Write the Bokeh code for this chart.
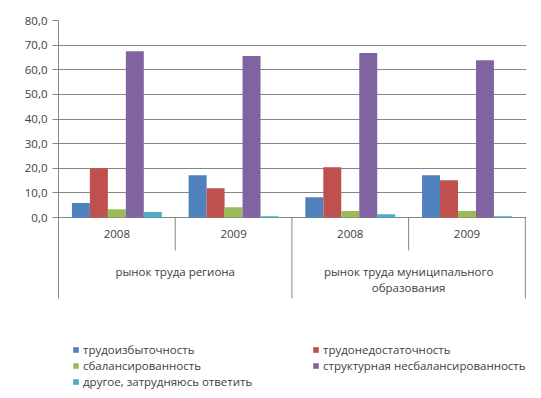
from bokeh.plotting import figure
from bokeh.models import Range1d, FixedTicker, CustomJSTickFormatter, Legend, LegendItem
from bokeh.core.properties import value
from bokeh.embed import file_html
from bokeh.resources import INLINE

# ---- data ----
group_labels = ["рынок труда региона", "рынок труда муниципального\nобразования"]
years = ["2008", "2009", "2008", "2009"]
category_group = [0, 0, 1, 1]
series_names = ["трудоизбыточность", "трудонедостаточность", "сбалансированность",
                "структурная несбалансированность", "другое, затрудняюсь ответить"]
labor_surplus = [5.9, 17.2, 8.2, 17.2]
labor_shortage = [20.0, 11.9, 20.4, 15.1]
balanced = [3.4, 4.2, 2.6, 2.6]
structural_imbalance = [67.5, 65.6, 66.8, 63.9]
other_no_answer = [2.2, 0.5, 1.3, 0.5]
y_ticks = [0, 10, 20, 30, 40, 50, 60, 70, 80]

series_values = [labor_surplus, labor_shortage, balanced, structural_imbalance, other_no_answer]
colors = ["#4F81BD", "#C0504D", "#9BBB59", "#8064A2", "#4BACC6"]

FONT = "Open Sans"
FS = "11.5px"
TXT = "#404040"
GRID = "#868686"

n_cat = len(years)
y_start = -72.28          # frame extends down to hold axis labels and legend
axis_bottom = -32.9       # where the category axis block ends
year_sep_bottom = -13.4
year_label_y = -6.9
group_label_y = -19.0

p = figure(width=540, height=397, output_backend="svg", toolbar_location=None,
           x_range=Range1d(0, n_cat + 0.01), y_range=Range1d(y_start, 80),
           x_axis_location=None, min_border_left=58, min_border_right=14,
           min_border_top=20, min_border_bottom=2)
p.outline_line_color = None
p.background_fill_color = "white"
p.xgrid.visible = False

p.yaxis.ticker = FixedTicker(ticks=y_ticks)
p.ygrid.ticker = FixedTicker(ticks=y_ticks)
p.yaxis.bounds = (axis_bottom, 80)
p.yaxis.formatter = CustomJSTickFormatter(code="return tick.toFixed(1).replace('.', ',');")
p.yaxis.axis_line_color = GRID
p.yaxis.major_tick_line_color = GRID
p.yaxis.minor_tick_line_color = None
p.yaxis.major_tick_in = 0
p.yaxis.major_tick_out = 6
p.yaxis.major_label_standoff = 5
p.yaxis.major_label_text_font = FONT
p.yaxis.major_label_text_font_size = FS
p.yaxis.major_label_text_color = TXT
p.ygrid.grid_line_color = GRID

bar_w = 0.154
renderers = []
for j, (vals, col) in enumerate(zip(series_values, colors)):
    xs = [i + 0.5 + (j - 2) * bar_w for i in range(n_cat)]
    r = p.vbar(x=xs, top=vals, bottom=0, width=bar_w, fill_color=col, line_color=None)
    renderers.append(r)

# separators of the category axis
bounds = list(range(1, n_cat + 1))
sep_bottom = [axis_bottom if (b == n_cat or category_group[b] != category_group[b - 1]) else year_sep_bottom
              for b in bounds]
p.segment(x0=bounds, y0=[0] * len(bounds), x1=bounds, y1=sep_bottom, line_color=GRID, line_width=1)

# year labels
p.text(x=[i + 0.5 for i in range(n_cat)], y=[year_label_y] * n_cat, text=years,
       text_align="center", text_baseline="middle", text_font=value(FONT),
       text_font_size=FS, text_color=TXT)

# group labels
n_groups = len(group_labels)
gx = []
for g in range(n_groups):
    members = [i for i in range(n_cat) if category_group[i] == g]
    gx.append((min(members) + max(members) + 1) / 2)
p.text(x=gx, y=[group_label_y] * n_groups, text=group_labels,
       text_align="center", text_baseline="top", text_font=value(FONT),
       text_font_size=FS, text_color=TXT, text_line_height=1.05)

legend = Legend(items=[LegendItem(label=n, renderers=[r]) for n, r in zip(series_names, renderers)],
                location=(14, 6), orientation="horizontal", ncols=2,
                glyph_width=7, glyph_height=7, label_standoff=4, label_width=229, label_height=16,
                spacing=0, padding=0, margin=0, border_line_color=None, background_fill_alpha=0,
                label_text_font=FONT, label_text_font_size=FS, label_text_color=TXT)
p.add_layout(legend)

open("out.html", "w").write(file_html(p, INLINE))
